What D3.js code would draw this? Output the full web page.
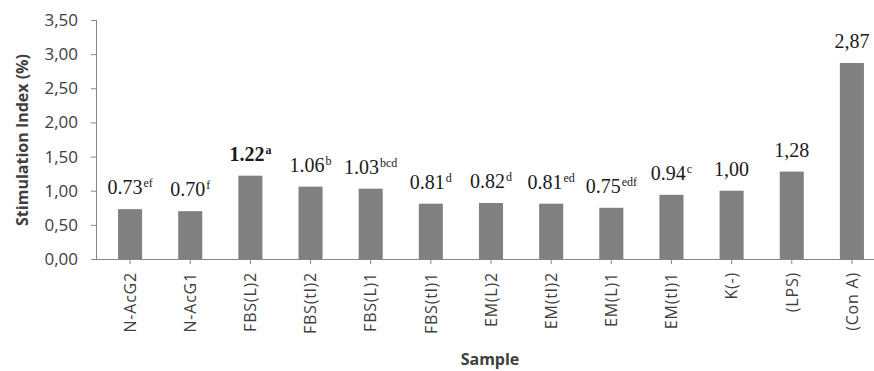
<!DOCTYPE html>
<html>
<head>
<meta charset="utf-8">
<script src="https://cdn.jsdelivr.net/npm/d3@7"></script>
<style>
  html, body { margin: 0; padding: 0; background: #fff; }
  svg { display: block; }
</style>
</head>
<body>
<svg id="chart" width="874" height="371"></svg>
<script>
const categories = ["N-AcG2", "N-AcG1", "FBS(L)2", "FBS(tl)2", "FBS(L)1", "FBS(tl)1", "EM(L)2", "EM(tl)2", "EM(L)1", "EM(tl)1", "K(-)", "(LPS)", "(Con A)"];
const values = [0.73, 0.70, 1.22, 1.06, 1.03, 0.81, 0.82, 0.81, 0.75, 0.94, 1.00, 1.28, 2.87];
const valueLabels = ["0.73", "0.70", "1.22", "1.06", "1.03", "0.81", "0.82", "0.81", "0.75", "0.94", "1,00", "1,28", "2,87"];
const letters = ["ef", "f", "a", "b", "bcd", "d", "d", "ed", "edf", "c", "", "", ""];
const boldLabels = [false, false, true, false, false, false, false, false, false, false, false, false, false];
const yTicks = [0, 0.5, 1, 1.5, 2, 2.5, 3, 3.5];

const svg = d3.select("#chart");
const axisColor = "#868686";
const textColor = "#404040";

const x = d3.scaleBand().domain(categories).range([100, 882]).paddingInner(0.6).paddingOuter(0.3);
const y = d3.scaleLinear().domain([0, 3.5]).range([259, 20]);

// Bars
svg.append("g").selectAll("rect").data(values).join("rect")
  .attr("x", (d, i) => x(categories[i]))
  .attr("y", d => y(d))
  .attr("width", x.bandwidth())
  .attr("height", d => y(0) - y(d))
  .attr("fill", "#808080");

// Y axis
const yAxis = svg.append("g").attr("transform", "translate(97,0)")
  .call(d3.axisLeft(y).tickValues(yTicks).tickSize(6).tickPadding(13)
    .tickFormat(d => d3.format(".2f")(d).replace(".", ",")));
yAxis.select(".domain").attr("stroke", axisColor).attr("d", "M-0.5," + y(3.5) + "V" + y(0));
yAxis.selectAll(".tick line").attr("stroke", axisColor);
yAxis.selectAll(".tick text").attr("fill", textColor)
  .style("font-family", "'Open Sans', sans-serif").style("font-size", "17px");

// X axis
const xAxis = svg.append("g").attr("transform", "translate(0,259)")
  .call(d3.axisBottom(x).tickSize(5).tickPadding(8));
xAxis.select(".domain").attr("stroke", axisColor).attr("d", "M97,0.5H874");
xAxis.selectAll(".tick line").attr("stroke", axisColor);
xAxis.selectAll(".tick text").attr("fill", textColor)
  .style("font-family", "'Open Sans', sans-serif").style("font-size", "16px")
  .style("letter-spacing", "0.8px")
  .attr("text-anchor", "end")
  .attr("transform", "rotate(-90)")
  .attr("x", -13).attr("y", 0).attr("dy", "0.36em");

// Value labels
const labels = svg.append("g").selectAll("text").data(values).join("text")
  .attr("x", (d, i) => x(categories[i]) + x.bandwidth() / 2)
  .attr("y", d => y(d) - 15)
  .attr("text-anchor", "middle")
  .attr("fill", "#1a1a1a")
  .style("font-family", "'Liberation Serif', 'Times New Roman', serif")
  .style("font-size", "20px");
labels.each(function(d, i) {
  const t = d3.select(this);
  t.append("tspan").text(valueLabels[i]).style("font-weight", boldLabels[i] ? "bold" : "normal");
  if (letters[i]) {
    t.append("tspan").attr("dy", -7).attr("dx", 1)
      .style("font-size", "12px").style("font-weight", boldLabels[i] ? "bold" : "normal")
      .text(letters[i]);
  }
});

// Axis titles
svg.append("text")
  .attr("transform", "translate(28,140) rotate(-90)")
  .attr("text-anchor", "middle")
  .attr("fill", textColor)
  .style("font-family", "'Open Sans', sans-serif").style("font-size", "16px").style("font-weight", "bold")
  .text("Stimulation Index (%)");

svg.append("text")
  .attr("x", 490).attr("y", 365)
  .attr("text-anchor", "middle")
  .attr("fill", textColor)
  .style("font-family", "'Open Sans', sans-serif").style("font-size", "16px").style("font-weight", "bold")
  .text("Sample");
</script>
</body>
</html>
